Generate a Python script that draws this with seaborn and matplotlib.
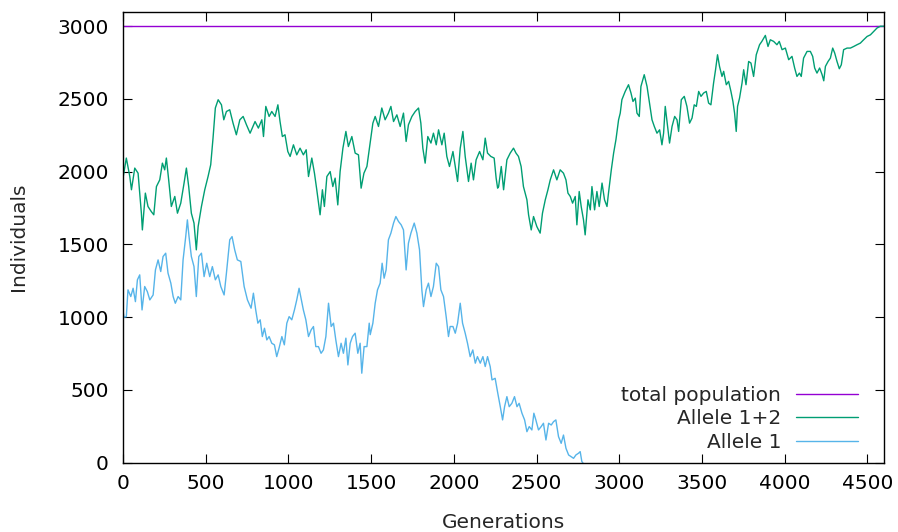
import numpy as np
import pandas as pd
import matplotlib
matplotlib.use('Agg')
import matplotlib.pyplot as plt
import seaborn as sns

# values
total_gen = [0, 4600]
total_pop = [3000, 3000]

a12_gen = [0, 21, 42, 52, 72, 92, 112, 118, 136, 152, 172, 187, 203, 223, 239, 253, 263, 277, 293, 314,
           330, 350, 370, 384, 398, 414, 430, 444, 455, 475, 495, 515, 531, 545, 559, 576, 596, 610, 626, 646,
           666, 686, 707, 727, 747, 769, 799, 819, 840, 850, 864, 884, 900, 920, 937, 950, 964, 980, 997, 1011,
           1031, 1051, 1071, 1091, 1108, 1122, 1142, 1158, 1172, 1192, 1206, 1218, 1233, 1253, 1269, 1283, 1299, 1313, 1330, 1348,
           1363, 1384, 1404, 1424, 1440, 1457, 1475, 1495, 1511, 1525, 1545, 1565, 1585, 1605, 1620, 1636, 1656, 1676, 1696, 1712,
           1726, 1747, 1767, 1787, 1801, 1813, 1827, 1843, 1862, 1877, 1894, 1908, 1928, 1942, 1958, 1974, 1995, 2009, 2023, 2039,
           2055, 2069, 2089, 2105, 2119, 2135, 2156, 2176, 2190, 2204, 2224, 2244, 2256, 2265, 2271, 2287, 2301, 2321, 2341, 2361,
           2376, 2391, 2407, 2421, 2442, 2452, 2468, 2482, 2502, 2522, 2536, 2553, 2569, 2583, 2603, 2623, 2643, 2663, 2678, 2690,
           2704, 2718, 2734, 2744, 2758, 2770, 2784, 2794, 2811, 2825, 2835, 2851, 2865, 2879, 2896, 2911, 2926, 2935, 2952, 2966,
           2980, 2996, 3006, 3016, 3036, 3056, 3071, 3083, 3097, 3107, 3121, 3131, 3151, 3168, 3183, 3198, 3212, 3228, 3244, 3258,
           3268, 3278, 3292, 3304, 3319, 3335, 3349, 3359, 3375, 3393, 3409, 3425, 3440, 3453, 3466, 3480, 3494, 3510, 3526, 3540,
           3554, 3570, 3582, 3594, 3606, 3621, 3631, 3647, 3661, 3675, 3687, 3697, 3707, 3715, 3727, 3742, 3752, 3766, 3782, 3796,
           3812, 3828, 3848, 3862, 3883, 3899, 3913, 3933, 3953, 3967, 3984, 4004, 4024, 4044, 4060, 4074, 4089, 4100, 4114, 4135,
           4155, 4169, 4181, 4195, 4211, 4226, 4236, 4246, 4262, 4276, 4290, 4302, 4316, 4330, 4342, 4356, 4377, 4397, 4417, 4437,
           4457, 4477, 4498, 4518, 4538, 4558, 4578, 4600]
a12_val = [1950, 2094, 1967, 1876, 2025, 1990, 1715, 1600, 1853, 1761, 1726, 1704, 1898, 1944, 2059, 2013, 2094, 1944, 1761, 1830,
           1715, 1784, 1922, 2025, 1898, 1715, 1647, 1463, 1623, 1761, 1876, 1967, 2048, 2231, 2438, 2495, 2460, 2357, 2414, 2426,
           2334, 2254, 2357, 2380, 2323, 2265, 2345, 2300, 2357, 2242, 2449, 2380, 2414, 2380, 2460, 2345, 2242, 2254, 2139, 2105,
           2185, 2116, 2162, 2116, 2151, 1967, 2094, 1990, 1876, 1704, 1876, 1761, 1967, 2001, 1898, 1956, 1772, 2001, 2162, 2277,
           2173, 2242, 2128, 2116, 1887, 1990, 2036, 2200, 2334, 2380, 2311, 2438, 2357, 2403, 2449, 2345, 2391, 2311, 2403, 2208,
           2323, 2380, 2414, 2438, 2334, 2162, 2059, 2242, 2197, 2265, 2185, 2288, 2185, 2265, 2105, 2036, 2139, 2036, 1933, 2162,
           2277, 2105, 1933, 2059, 1944, 2082, 2139, 2082, 2231, 2128, 2105, 2094, 1956, 1887, 1898, 2036, 1876, 2082, 2128, 2162,
           2128, 2105, 2036, 1898, 1807, 1704, 1600, 1692, 1623, 1578, 1715, 1807, 1876, 1944, 2013, 1944, 2013, 1990, 1944, 1853,
           1830, 1784, 1830, 1635, 1864, 1761, 1669, 1566, 1807, 1738, 1898, 1738, 1864, 1761, 1922, 1807, 1761, 1853, 2013, 2128,
           2220, 2357, 2403, 2495, 2552, 2598, 2541, 2483, 2506, 2403, 2380, 2586, 2667, 2586, 2472, 2357, 2311, 2265, 2288, 2185,
           2265, 2449, 2311, 2197, 2311, 2380, 2357, 2277, 2495, 2518, 2449, 2334, 2369, 2460, 2449, 2552, 2518, 2541, 2552, 2472,
           2460, 2609, 2701, 2804, 2724, 2655, 2690, 2598, 2621, 2552, 2483, 2403, 2277, 2449, 2506, 2609, 2701, 2598, 2758, 2747,
           2655, 2804, 2873, 2896, 2937, 2861, 2907, 2896, 2873, 2896, 2839, 2850, 2770, 2793, 2713, 2655, 2678, 2655, 2781, 2827,
           2827, 2793, 2713, 2678, 2713, 2667, 2625, 2724, 2758, 2781, 2850, 2816, 2758, 2708, 2735, 2839, 2850, 2850, 2861, 2873,
           2884, 2907, 2930, 2941, 2964, 2988, 3000, 3000]

a1_gen = [0, 7, 21, 31, 48, 62, 76, 88, 102, 116, 132, 148, 163, 183, 197, 213, 229, 243, 259, 273,
          290, 304, 317, 334, 350, 364, 380, 390, 400, 414, 430, 444, 459, 475, 491, 507, 525, 541, 559, 576,
          592, 612, 626, 646, 660, 676, 692, 713, 733, 753, 775, 789, 803, 816, 830, 843, 856, 870, 884, 900,
          916, 930, 944, 961, 976, 991, 1005, 1021, 1037, 1051, 1065, 1077, 1091, 1106, 1122, 1138, 1152, 1166, 1182, 1198,
          1212, 1227, 1243, 1259, 1273, 1287, 1303, 1319, 1333, 1348, 1360, 1374, 1388, 1404, 1420, 1434, 1444, 1458, 1475, 1489,
          1495, 1511, 1525, 1539, 1555, 1567, 1579, 1591, 1605, 1620, 1636, 1650, 1666, 1682, 1696, 1712, 1726, 1741, 1761, 1777,
          1793, 1807, 1817, 1833, 1847, 1862, 1877, 1894, 1908, 1922, 1938, 1954, 1968, 1978, 1995, 2009, 2023, 2039, 2053, 2069,
          2083, 2099, 2115, 2130, 2143, 2160, 2176, 2190, 2204, 2220, 2231, 2250, 2266, 2281, 2295, 2307, 2321, 2335, 2351, 2367,
          2382, 2395, 2412, 2428, 2442, 2456, 2472, 2484, 2496, 2512, 2528, 2542, 2557, 2573, 2589, 2603, 2617, 2633, 2649, 2663,
          2678, 2694, 2710, 2724, 2738, 2754, 2764, 2774, 2780]
a1_val = [1050, 1000, 1004, 1188, 1142, 1199, 1107, 1257, 1291, 1050, 1211, 1176, 1119, 1153, 1325, 1394, 1314, 1417, 1440, 1303,
          1234, 1142, 1096, 1142, 1119, 1394, 1554, 1669, 1554, 1417, 1348, 1142, 1417, 1440, 1279, 1371, 1279, 1348, 1257, 1291,
          1211, 1153, 1303, 1532, 1554, 1463, 1394, 1383, 1211, 1119, 1062, 1165, 1050, 959, 982, 867, 924, 844, 867, 821,
          810, 729, 787, 867, 810, 959, 1004, 982, 1050, 1119, 1199, 1131, 1050, 982, 867, 913, 936, 798, 798, 752,
          775, 867, 1096, 936, 959, 844, 729, 821, 752, 856, 672, 821, 867, 890, 752, 821, 615, 798, 798, 959,
          880, 959, 1096, 1188, 1234, 1371, 1268, 1325, 1532, 1578, 1647, 1692, 1658, 1635, 1600, 1325, 1509, 1578, 1647, 1578,
          1463, 1188, 1073, 1188, 1234, 1142, 1211, 1371, 1348, 1188, 1142, 1004, 867, 936, 936, 890, 959, 1096, 959, 890,
          821, 729, 775, 684, 729, 684, 729, 661, 729, 661, 569, 580, 477, 385, 294, 385, 454, 385, 408, 454,
          385, 408, 340, 294, 213, 248, 225, 340, 294, 225, 248, 271, 156, 271, 259, 282, 294, 179, 133, 190,
          99, 53, 41, 30, 53, 65, 76, 7, 0]

series = [
    ('total population', total_gen, total_pop, '#9400d3'),
    ('Allele 1+2', a12_gen, a12_val, '#009e73'),
    ('Allele 1', a1_gen, a1_val, '#56b4e9'),
]

sns.set_style('ticks')
plt.rcParams['font.family'] = ['DejaVu Sans']
plt.rcParams['font.size'] = 14.5

fig = plt.figure(figsize=(8.98, 5.32), dpi=100)
ax = fig.add_axes([0.1368, 0.1303, 0.8476, 0.8477])

for name, gen, val, col in series:
    df = pd.DataFrame({'Generations': gen, 'Individuals': val})
    sns.lineplot(data=df, x='Generations', y='Individuals', color=col,
                 linewidth=1.0, label=name, ax=ax, estimator=None)

ax.set_xlim(0, 4600)
ax.set_ylim(0, 3100)
ax.set_xticks(np.arange(0, 4501, 500))
ax.set_yticks(np.arange(0, 3001, 500))
ax.tick_params(direction='in', length=6.5, width=0.8, top=True, right=True,
               labelsize=14.5, colors='black')
ax.tick_params(axis='y', pad=10)
ax.tick_params(axis='x', pad=8)
for s in ax.spines.values():
    s.set_linewidth(1.0)
    s.set_color('black')
    s.set_zorder(5)

ax.set_xlabel('Generations', fontsize=14.5, labelpad=14.5)
ax.set_ylabel('Individuals', fontsize=14.5, labelpad=21)

ax.legend(loc='lower right', bbox_to_anchor=(0.955, 0.151),
          bbox_transform=fig.transFigure, frameon=False, markerfirst=False,
          borderpad=0, borderaxespad=0, handlelength=3.05, handletextpad=0.75,
          labelspacing=0.22, fontsize=14.5)

fig.savefig('out.png', dpi=100)
